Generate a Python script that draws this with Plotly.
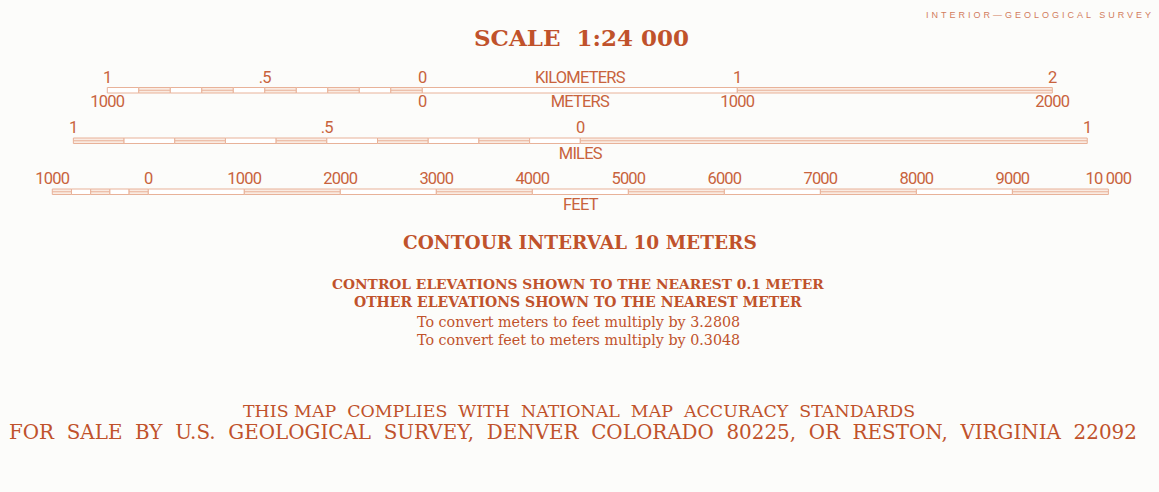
import plotly.graph_objects as go

# ---------------- data ----------------
# Kilometer / meter bar (values in meters)
km_top_vals = [-1000, -500, 0, 1000, 2000]
km_top_text = ["1", ".5", "0", "1", "2"]
m_bot_vals = [-1000, 0, 1000, 2000]
m_bot_text = ["1000", "0", "1000", "2000"]
km_divs = [-1000, -900, -800, -700, -600, -500, -400, -300, -200, -100, 0, 1000, 2000]
km_fill = [0, 1, 0, 1, 0, 1, 0, 1, 0, 1, 0, 1]

# Mile bar (values in miles)
mi_vals = [-1, -0.5, 0, 1]
mi_text = ["1", ".5", "0", "1"]
mi_divs = [-1.0, -0.9, -0.8, -0.7, -0.6, -0.5, -0.4, -0.3, -0.2, -0.1, 0, 1]
mi_fill = [1, 0, 1, 0, 1, 0, 1, 0, 1, 0, 1]

# Feet bar (values in feet)
ft_vals = [-1000, 0, 1000, 2000, 3000, 4000, 5000, 6000, 7000, 8000, 9000, 10000]
ft_text = ["1000", "0", "1000", "2000", "3000", "4000", "5000", "6000", "7000", "8000", "9000", "10 000"]
ft_divs = [-1000, -800, -600, -400, -200, 0, 1000, 2000, 3000, 4000, 5000, 6000, 7000, 8000, 9000, 10000]
ft_fill = [1, 0, 1, 0, 1, 0, 1, 0, 1, 0, 1, 0, 1, 0, 1]

unit_km = ("KILOMETERS", 500)
unit_m = ("METERS", 500)
unit_mi = ("MILES", 0)
unit_ft = ("FEET", 4500)

M_PER_MILE = 1609.344
M_PER_FOOT = 0.3048

# ---------------- layout / style ----------------
W, H = 1159, 492
PX_PER_M = 0.315
ZERO_PX = {"x": 422.3, "x2": 580.3, "x3": 148.3}
PX_PER_UNIT = {"x": PX_PER_M, "x2": PX_PER_M * M_PER_MILE, "x3": PX_PER_M * M_PER_FOOT}

BG = "#fcfcfa"
TXT = "#c0522b"
LBL = "#c8633d"
BAR_LINE = "#e8b299"
BAR_TINT = "#faebe2"
LABEL_FONT = "Roboto, Liberation Sans, sans-serif"
SERIF = "DejaVu Serif, serif"

bars = [
    # axis, divs, fills, y_top, y_bottom
    ("x", km_divs, km_fill, 87.5, 93.0),
    ("x2", mi_divs, mi_fill, 138.0, 143.5),
    ("x3", ft_divs, ft_fill, 189.0, 194.5),
]

fig = go.Figure()
shapes = []
for ax, divs, fills, yt, yb in bars:
    for i in range(len(divs) - 1):
        filled = fills[i] == 1
        shapes.append(dict(type="rect", xref=ax, yref="y", x0=divs[i], x1=divs[i + 1],
                           y0=yt, y1=yb, line=dict(color=BAR_LINE, width=1),
                           fillcolor=BAR_TINT if filled else "white", layer="above"))
        if filled:
            ym = (yt + yb) / 2
            shapes.append(dict(type="line", xref=ax, yref="y", x0=divs[i], x1=divs[i + 1],
                               y0=ym, y1=ym, line=dict(color=BAR_LINE, width=1), layer="above"))


def narrow(s):
    return f'<span style="letter-spacing:-0.8px">{s}</span>'


def text_trace(xs, texts, y, ax, size=16.5):
    return go.Scatter(x=xs, y=[y] * len(xs), text=[narrow(t) for t in texts], mode="text",
                      xaxis=ax, yaxis="y",
                      textfont=dict(family=LABEL_FONT, size=size, color=LBL),
                      textposition="middle center", hoverinfo="skip", showlegend=False)


fig.add_trace(text_trace(km_top_vals, km_top_text, 78.5, "x"))
fig.add_trace(text_trace([unit_km[1]], [unit_km[0]], 78.5, "x"))
fig.add_trace(text_trace(m_bot_vals, m_bot_text, 103, "x"))
fig.add_trace(text_trace([unit_m[1]], [unit_m[0]], 103, "x"))
fig.add_trace(text_trace(mi_vals, mi_text, 128.5, "x2"))
fig.add_trace(text_trace([unit_mi[1]], [unit_mi[0]], 155, "x2"))
fig.add_trace(text_trace(ft_vals, ft_text, 179.5, "x3"))
fig.add_trace(text_trace([unit_ft[1]], [unit_ft[0]], 206, "x3"))


def ann(text, x, y, size, family, bold=False, color=TXT, xanchor="center"):
    t = f"<b>{text}</b>" if bold else text
    return dict(text=t, x=x, y=y, xref="paper", yref="y", xanchor=xanchor, yanchor="middle",
                showarrow=False, font=dict(family=family, size=size, color=color))


annotations = [
    ann('<span style="letter-spacing:3px">INTERIOR—GEOLOGICAL SURVEY</span>', 0.9975, 15, 9,
        "Liberation Sans, sans-serif", color="#d27d5e", xanchor="right"),
    ann("SCALE  1:24 000", 0.502, 37, 23, SERIF, bold=True),
    ann("CONTOUR INTERVAL 10 METERS", 0.5, 242, 18.5, SERIF, bold=True),
    ann("CONTROL ELEVATIONS SHOWN TO THE NEAREST 0.1 METER", 0.4985, 283.5, 13.8, SERIF, bold=True),
    ann("OTHER ELEVATIONS SHOWN TO THE NEAREST METER", 0.4985, 302, 14, SERIF, bold=True),
    ann("To convert meters to feet multiply by 3.2808", 0.499, 321.5, 14.3, SERIF),
    ann("To convert feet to meters multiply by 0.3048", 0.499, 340, 14.3, SERIF),
    ann("THIS MAP  COMPLIES  WITH  NATIONAL  MAP  ACCURACY  STANDARDS", 0.4995, 410.5, 17.4, SERIF),
    ann("FOR  SALE  BY  U.S.  GEOLOGICAL  SURVEY,  DENVER  COLORADO  80225,  OR  RESTON,  VIRGINIA  22092",
        0.4944, 432.5, 19.9, SERIF),
]


def xrange_for(ax):
    z, p = ZERO_PX[ax], PX_PER_UNIT[ax]
    return [-z / p, (W - z) / p]


hidden = dict(visible=False, showgrid=False, zeroline=False, fixedrange=True)
fig.update_layout(
    width=W, height=H, autosize=False,
    margin=dict(l=0, r=0, t=0, b=0),
    paper_bgcolor=BG, plot_bgcolor=BG,
    xaxis=dict(range=xrange_for("x"), domain=[0, 1], **hidden),
    xaxis2=dict(range=xrange_for("x2"), domain=[0, 1], overlaying="x", anchor="y", **hidden),
    xaxis3=dict(range=xrange_for("x3"), domain=[0, 1], overlaying="x", anchor="y", **hidden),
    yaxis=dict(range=[H, 0], domain=[0, 1], **hidden),
    shapes=shapes,
    annotations=annotations,
    showlegend=False,
)

fig.write_html("out.html", config={"displayModeBar": False},
               post_script="document.body.style.margin='0';document.body.style.background='%s';" % BG)
